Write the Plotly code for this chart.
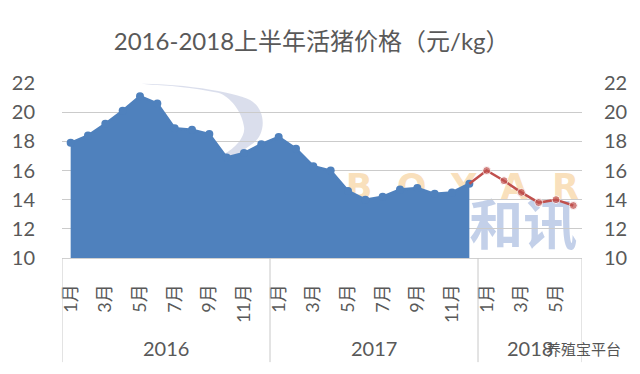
import plotly.graph_objects as go

# ---- data ----
years = ["2016", "2017", "2018"]
months_per_year = [12, 12, 6]
month_labels = ["1月", "3月", "5月", "7月", "9月", "11月",
                "1月", "3月", "5月", "7月", "9月", "11月",
                "1月", "3月", "5月"]
price_2016 = [17.9, 18.4, 19.2, 20.1, 21.1, 20.6, 18.9, 18.8, 18.5, 16.9, 17.2, 17.8]
price_2017 = [18.3, 17.5, 16.3, 16.0, 14.6, 14.0, 14.2, 14.7, 14.8, 14.4, 14.5, 15.1]
price_2018 = [16.0, 15.3, 14.5, 13.8, 14.0, 13.6]
y_ticks = [10, 12, 14, 16, 18, 20, 22]
title_text = "2016-2018上半年活猪价格（元/kg）"

BLUE = "#4F81BD"
RED = "#C0504D"
TXT = "#595959"
GRID = "#CBCBCB"
FONT = "Lato, 'Noto Sans CJK SC', sans-serif"

blue_y = price_2016 + price_2017
blue_x = list(range(len(blue_y)))
# red line continues from last 2017 point
red_x = [blue_x[-1]] + [len(blue_y) + i for i in range(len(price_2018))]
red_y = [price_2017[-1]] + price_2018
red_sizes = [0] + [8] * len(price_2018)
n_total = sum(months_per_year)

fig = go.Figure()
fig.add_trace(go.Scatter(
    x=blue_x, y=blue_y, mode="lines+markers", fill="tozeroy",
    fillcolor=BLUE, line=dict(color=BLUE, width=2.5),
    marker=dict(color=BLUE, size=8), showlegend=False, hoverinfo="skip"))
fig.add_trace(go.Scatter(
    x=red_x, y=red_y, mode="lines+markers", yaxis="y2",
    line=dict(color=RED, width=2.5),
    marker=dict(color=RED, size=red_sizes), showlegend=False, hoverinfo="skip"))

# group dividers and year labels
shapes = []
annotations = []
start = 0
for yr, n in zip(years, months_per_year):
    annotations.append(dict(x=start + (n - 1) / 2, y=-0.515, xref="x", yref="paper",
                            text=yr, showarrow=False, yanchor="middle",
                            font=dict(family=FONT, size=20, color=TXT)))
    start += n
for b in [0] + [sum(months_per_year[:i + 1]) for i in range(len(years))]:
    shapes.append(dict(type="line", xref="x", yref="paper", x0=b - 0.5, x1=b - 0.5,
                       y0=0, y1=-0.595, line=dict(color="#C8C8C8", width=1)))

# watermark (drawn beneath the data)
shapes.append(dict(type="path", xref="x", yref="y", layer="below",
                   path="M 4.09,21.95 C 7.5,21.9 10.3,21.1 10.57,20.65 C 11.3,19.9 11.2,18.5 10.57,17.9 "
                        "L 9.43,16.95 L 8.79,17.08 C 9.6,17.6 10.1,18.4 10.0,19.0 "
                        "C 9.9,20.0 9.2,21.1 8.51,21.33 C 7.0,21.7 5.5,21.85 4.66,21.88 Z",
                   fillcolor="rgba(205,211,230,0.75)", line=dict(width=0)))
shapes.append(dict(type="rect", xref="x", yref="y", layer="below",
                   x0=16.6, x1=28.6, y0=14.1, y1=16.1, line=dict(width=0),
                   label=dict(text="B  O  Y  A  R", font=dict(family="DejaVu Sans", size=35,
                                                         color="rgba(248,216,170,0.8)", weight="bold"))))
shapes.append(dict(type="rect", xref="x", yref="y", layer="below",
                   x0=17.0, x1=29.0, y0=10.4, y1=13.4, line=dict(width=0),
                   label=dict(text="博亚和讯", font=dict(family="Noto Sans CJK SC", size=54,
                                                     color="rgba(180,196,228,0.8)", weight="bold"))))

annotations.append(dict(x=1.0, y=-0.515, xref="paper", yref="paper", xanchor="left",
                        text="养殖宝平台", showarrow=False, yanchor="middle", xshift=-38,
                        font=dict(family="Noto Sans CJK SC", size=15, color="#555555")))

axis_font = dict(family=FONT, size=20, color=TXT)
fig.update_layout(
    width=640, height=374,
    margin=dict(l=60, r=57, t=83, b=116),
    paper_bgcolor="white", plot_bgcolor="white",
    title=dict(text=title_text, x=0.487, xanchor="center", y=1 - 42 / 374, yanchor="middle",
               yref="container", font=dict(family=FONT, size=24, color=TXT)),
    xaxis=dict(range=[-0.5, n_total - 0.5], tickmode="array",
               tickvals=list(range(0, n_total, 2)), ticktext=month_labels,
               tickangle=-90, showgrid=False, zeroline=False, ticks="",
               showline=True, linecolor="#D0D0D0", ticklabelstandoff=18,
               tickfont=dict(family=FONT, size=18, color=TXT)),
    yaxis=dict(range=[10, 22], tickvals=y_ticks, showgrid=True, gridcolor=GRID,
               gridwidth=1, zeroline=False, ticks="", ticklabelstandoff=26,
               tickfont=axis_font),
    yaxis2=dict(range=[10, 22], tickvals=y_ticks, overlaying="y", side="right",
                showgrid=False, zeroline=False, ticks="", ticklabelstandoff=21,
                tickfont=axis_font),
    shapes=shapes, annotations=annotations,
)

fig.write_html("out.html")
